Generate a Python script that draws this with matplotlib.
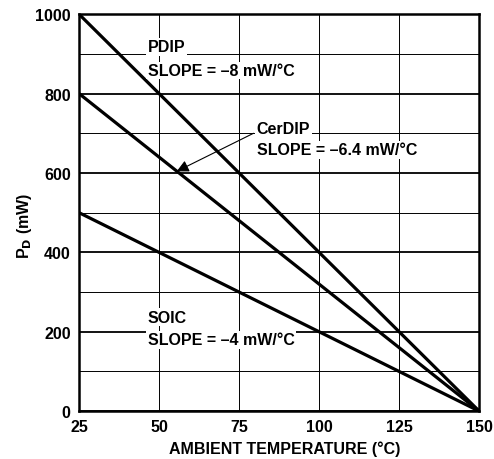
import matplotlib
matplotlib.use("Agg")
import matplotlib.pyplot as plt
import numpy as np

plt.rcParams['font.family'] = ['Liberation Sans', 'DejaVu Sans']
plt.rcParams['font.weight'] = 'bold'

temps = [25, 150]
pdip = [1000, 0]
cerdip = [800, 0]
soic = [500, 0]
xticks = [25, 50, 75, 100, 125, 150]
yticks = [0, 200, 400, 600, 800, 1000]

FS = 11.5

fig = plt.figure(figsize=(4.94, 4.60), dpi=100)
ax = fig.add_axes([0.160, 0.104, 0.810, 0.863])

ax.set_xlim(25, 150)
ax.set_ylim(0, 1000)
ax.set_xticks(xticks)
ax.set_yticks(yticks)
ax.set_yticks(np.arange(100, 1000, 200), minor=True)
ax.grid(True, which='major', axis='y', color='black', linewidth=1.3)
ax.grid(True, which='minor', axis='y', color='black', linewidth=0.7)
ax.grid(True, which='major', axis='x', color='black', linewidth=0.7)
ax.tick_params(which='both', length=0, labelsize=FS, pad=6)
for lbl in ax.get_xticklabels() + ax.get_yticklabels():
    lbl.set_fontweight('bold')
for s in ax.spines.values():
    s.set_linewidth(1.8)

ax.plot(temps, pdip, color='black', linewidth=2.3, zorder=3)
ax.plot(temps, cerdip, color='black', linewidth=2.3, zorder=3)
ax.plot(temps, soic, color='black', linewidth=2.3, zorder=3)

bb = dict(facecolor='white', edgecolor='none', pad=1)
ax.text(46.5, 918, 'PDIP', fontsize=FS, fontweight='bold', ha='left', va='center', bbox=bb, zorder=4)
ax.text(46.5, 858, 'SLOPE = \u20138 mW/\u00b0C', fontsize=FS, fontweight='bold', ha='left', va='center', bbox=bb, zorder=4)
ax.text(80.5, 713, 'CerDIP', fontsize=FS, fontweight='bold', ha='left', va='center', bbox=bb, zorder=4)
ax.text(80.5, 658, 'SLOPE = \u20136.4 mW/\u00b0C', fontsize=FS, fontweight='bold', ha='left', va='center', bbox=bb, zorder=4)
ax.text(46.5, 237, 'SOIC', fontsize=FS, fontweight='bold', ha='left', va='center', bbox=bb, zorder=4)
ax.text(46.5, 180, 'SLOPE = \u20134 mW/\u00b0C', fontsize=FS, fontweight='bold', ha='left', va='center', bbox=bb, zorder=4)

ax.annotate('', xy=(55.5, 604), xytext=(79.5, 700),
            arrowprops=dict(arrowstyle='-|>', color='black', lw=0.8,
                            mutation_scale=18, shrinkA=0, shrinkB=0), zorder=5)

ax.set_xlabel('AMBIENT TEMPERATURE (\u00b0C)', fontsize=FS, fontweight='bold', labelpad=5)
ax.xaxis.set_label_coords(0.515, -0.075)
ax.set_ylabel('P$_\\mathbf{D}$ (mW)', fontsize=FS, fontweight='bold')
ax.yaxis.set_label_coords(-0.113, 0.47)

fig.savefig('out.png', dpi=100)
